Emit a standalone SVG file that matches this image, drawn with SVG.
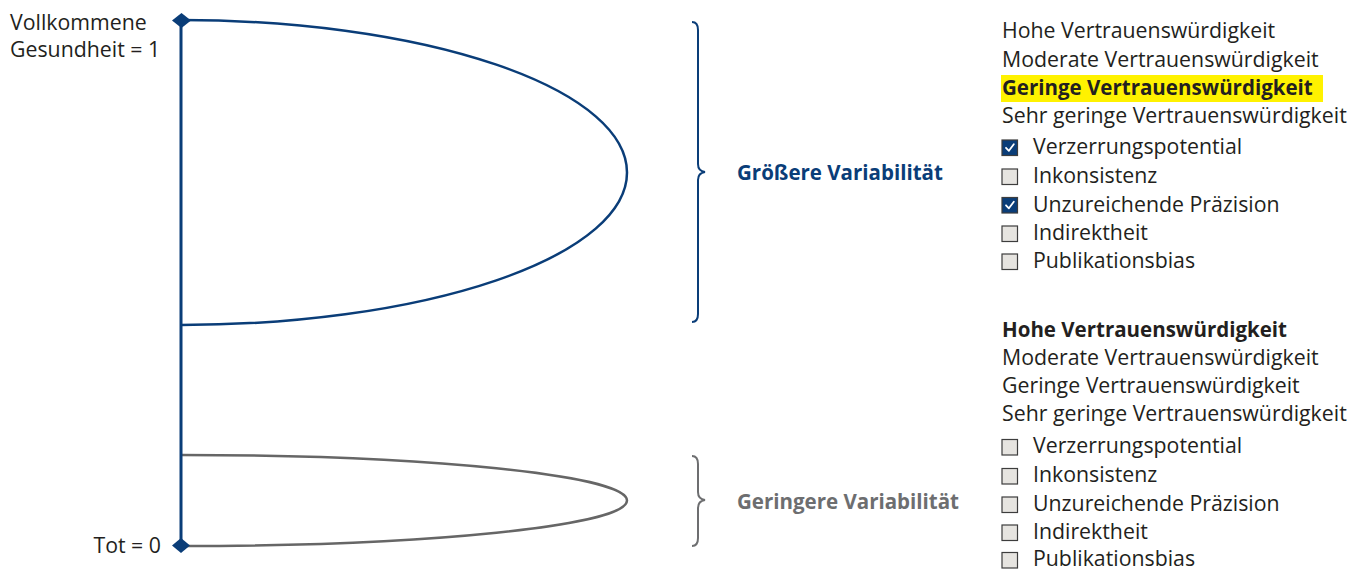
<svg xmlns="http://www.w3.org/2000/svg" width="1364" height="569" viewBox="0 0 1364 569">
  <style>
    text { font-family: "Open Sans", "Liberation Sans", sans-serif; font-size: 21.3px; fill: #231f20; }
    .b { font-weight: bold; font-size: 20.5px; }
    .blue { fill: #0a3d78; }
    .grey { fill: #6d6e70; }
    .box { fill: #e6e4e0; stroke: #3d3d3d; stroke-width: 1.2; }
    .boxon { fill: #0a3d78; stroke: #3d3d3d; stroke-width: 1.2; }
    .tick { fill: none; stroke: #ffffff; stroke-width: 1.8; stroke-linecap: round; stroke-linejoin: round; }
  </style>
  <defs>
    <g id="chk"><rect class="boxon" x="0" y="0" width="15.5" height="15.5"/><path class="tick" d="M4 7.8 L6.9 10.8 L11.8 4.2"/></g>
    <rect id="unchk" class="box" x="0" y="0" width="15.5" height="15.5"/>
  </defs>

  <!-- axis labels -->
  <g id="top-label">
    <text x="10" y="30">Vollkommene</text>
    <text x="10" y="57">Gesundheit = 1</text>
  </g>
  <g id="bottom-label">
    <text x="161" y="553" text-anchor="end">Tot = 0</text>
  </g>

  <!-- curves and axis -->
  <g id="connectors" fill="none">
    <path d="M181 455 A446 45.5 0 0 1 181 546" stroke="#666666" stroke-width="2.5"/>
    <path d="M181 20 A446 152.5 0 0 1 181 325" stroke="#0a3d78" stroke-width="2.5"/>
    <line x1="181" y1="20" x2="181" y2="546" stroke="#0a3d78" stroke-width="3"/>
    <path d="M181.5 13 L191 20.5 L181.5 28 L172 20.5 Z" fill="#0a3d78"/>
    <path d="M181 538 L190 545.5 L181 553 L172 545.5 Z" fill="#0a3d78"/>
  </g>

  <!-- braces -->
  <g id="brace-high">
    <path d="M692 22 Q698 22 698 30 L698 164 Q698 171 705 172 Q698 173 698 180 L698 314 Q698 322 692 322" fill="none" stroke="#0a3d78" stroke-width="2"/>
    <text class="b blue" x="737" y="180">Größere Variabilität</text>
  </g>
  <g id="brace-low">
    <path d="M692 456 Q698 456 698 464 L698 492 Q698 499 705 500 Q698 501 698 508 L698 538 Q698 546 692 546" fill="none" stroke="#6d6e70" stroke-width="2"/>
    <text class="b grey" x="737" y="509">Geringere Variabilität</text>
  </g>

  <!-- rating panel, wide spread -->
  <g id="rating-low">
    <rect x="1001" y="75" width="322" height="27" fill="#fff200"/>
    <text x="1002" y="38">Hohe Vertrauenswürdigkeit</text>
    <text x="1002" y="66.5">Moderate Vertrauenswürdigkeit</text>
    <text class="b" x="1002" y="94.5">Geringe Vertrauenswürdigkeit</text>
    <text x="1002" y="122.7">Sehr geringe Vertrauenswürdigkeit</text>
    <use href="#chk" x="1002" y="140"/><text x="1033" y="154.3">Verzerrungspotential</text>
    <use href="#unchk" x="1002" y="169"/><text x="1033" y="183.3">Inkonsistenz</text>
    <use href="#chk" x="1002" y="197.5"/><text x="1033" y="211.7">Unzureichende Präzision</text>
    <use href="#unchk" x="1002" y="226"/><text x="1033" y="240">Indirektheit</text>
    <use href="#unchk" x="1002" y="254"/><text x="1033" y="268.3">Publikationsbias</text>
  </g>

  <!-- rating panel, narrow spread -->
  <g id="rating-high">
    <text class="b" x="1002" y="337">Hohe Vertrauenswürdigkeit</text>
    <text x="1002" y="365">Moderate Vertrauenswürdigkeit</text>
    <text x="1002" y="393">Geringe Vertrauenswürdigkeit</text>
    <text x="1002" y="421">Sehr geringe Vertrauenswürdigkeit</text>
    <use href="#unchk" x="1002" y="439.5"/><text x="1033" y="453.3">Verzerrungspotential</text>
    <use href="#unchk" x="1002" y="468.5"/><text x="1033" y="482.3">Inkonsistenz</text>
    <use href="#unchk" x="1002" y="497"/><text x="1033" y="511">Unzureichende Präzision</text>
    <use href="#unchk" x="1002" y="525"/><text x="1033" y="539">Indirektheit</text>
    <use href="#unchk" x="1002" y="552.5"/><text x="1033" y="566">Publikationsbias</text>
  </g>
</svg>
